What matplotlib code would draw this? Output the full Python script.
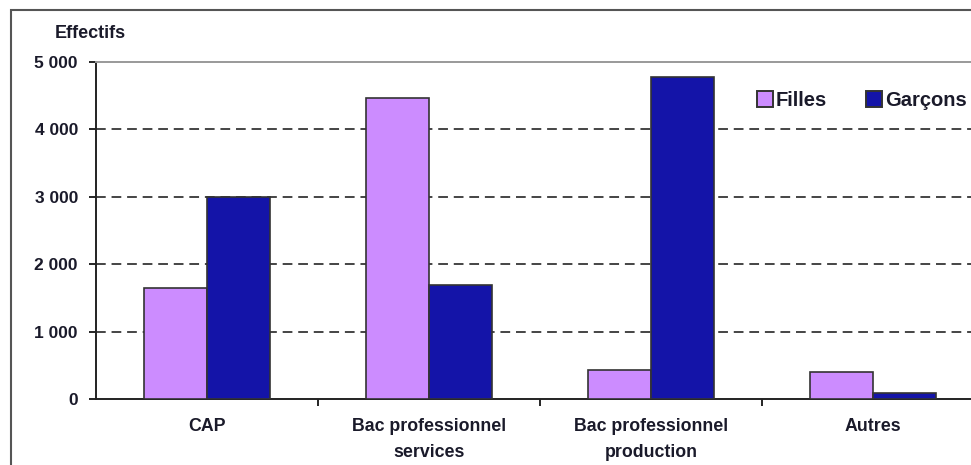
import matplotlib.pyplot as plt
import numpy as np
from matplotlib.patches import Rectangle, Patch

plt.rcParams['font.family'] = ['Liberation Sans', 'DejaVu Sans']

CATEGORIES = ['CAP', 'Bac professionnel\nservices', 'Bac professionnel\nproduction', 'Autres']
FILLES = [1650, 4470, 430, 400]
GARCONS = [3000, 1690, 4780, 90]
Y_TICKS = [0, 1000, 2000, 3000, 4000, 5000]
Y_LABELS = ['0', '1 000', '2 000', '3 000', '4 000', '5 000']

COL_FILLES = '#CC8CFF'
COL_GARCONS = '#1414A8'
EDGE = '#333333'
TXT = '#1a1a2a'

W, H = 971, 465
fig = plt.figure(figsize=(W / 100, H / 100), dpi=100)

# outer frame of the original image (cut off on right and bottom)
fig.patches.append(Rectangle((11 / W, -0.1), 1.2, 1 - 10 / H + 0.1,
                             transform=fig.transFigure, fill=False,
                             edgecolor='#555555', lw=1.5, clip_on=False))

left, right = 96 / W, 984 / W
bottom, top = 1 - 399 / H, 1 - 62 / H
ax = fig.add_axes([left, bottom, right - left, top - bottom])

x = np.arange(len(CATEGORIES))
bw = 0.285
ax.bar(x - bw / 2, FILLES, bw, color=COL_FILLES, edgecolor=EDGE, lw=1.2, zorder=3)
ax.bar(x + bw / 2, GARCONS, bw, color=COL_GARCONS, edgecolor=EDGE, lw=1.2, zorder=3)

ax.set_xlim(-0.5, len(CATEGORIES) - 0.5)
ax.set_ylim(0, 5000)

for v in Y_TICKS[1:-1]:
    ax.axhline(v, color='#444444', lw=1.4, ls=(0, (5, 3)), zorder=1)

ax.set_yticks(Y_TICKS)
ax.set_yticklabels(Y_LABELS, fontsize=12.5, fontweight='bold', color=TXT)
ax.tick_params(axis='y', length=5, width=1.2, direction='out', pad=8)

ax.set_xticks(x[:-1] + 0.5)
ax.set_xticklabels([])
ax.set_xticks(x, minor=True)
ax.set_xticklabels(CATEGORIES, minor=True, fontsize=12.8, fontweight='bold',
                   color=TXT, linespacing=1.65)
ax.tick_params(axis='x', which='minor', length=0, pad=14)
ax.tick_params(axis='x', which='major', length=5, width=1.2, direction='out')

for s in ['left', 'bottom']:
    ax.spines[s].set_color('#222222')
    ax.spines[s].set_linewidth(1.4)
ax.spines['right'].set_visible(False)
ax.spines['top'].set_color('#999999')
ax.spines['top'].set_linewidth(1.4)

fig.text(55 / W, 1 - 34 / H, 'Effectifs', fontsize=13, fontweight='bold',
         color=TXT, va='center', ha='left')

handles = [Patch(facecolor=COL_FILLES, edgecolor=EDGE, lw=1.4, label='Filles'),
           Patch(facecolor=COL_GARCONS, edgecolor=EDGE, lw=1.4, label='Garçons')]
fig.legend(handles=handles, loc='upper left', bbox_to_anchor=(757 / W, 1 - 91 / H),
           ncol=2, frameon=False, handlelength=0.78, handleheight=0.78,
           handletextpad=0.15, columnspacing=1.95, borderpad=0, borderaxespad=0,
           prop={'size': 14.5, 'weight': 'bold'}, labelcolor=TXT)

fig.savefig('out.png', dpi=100)
